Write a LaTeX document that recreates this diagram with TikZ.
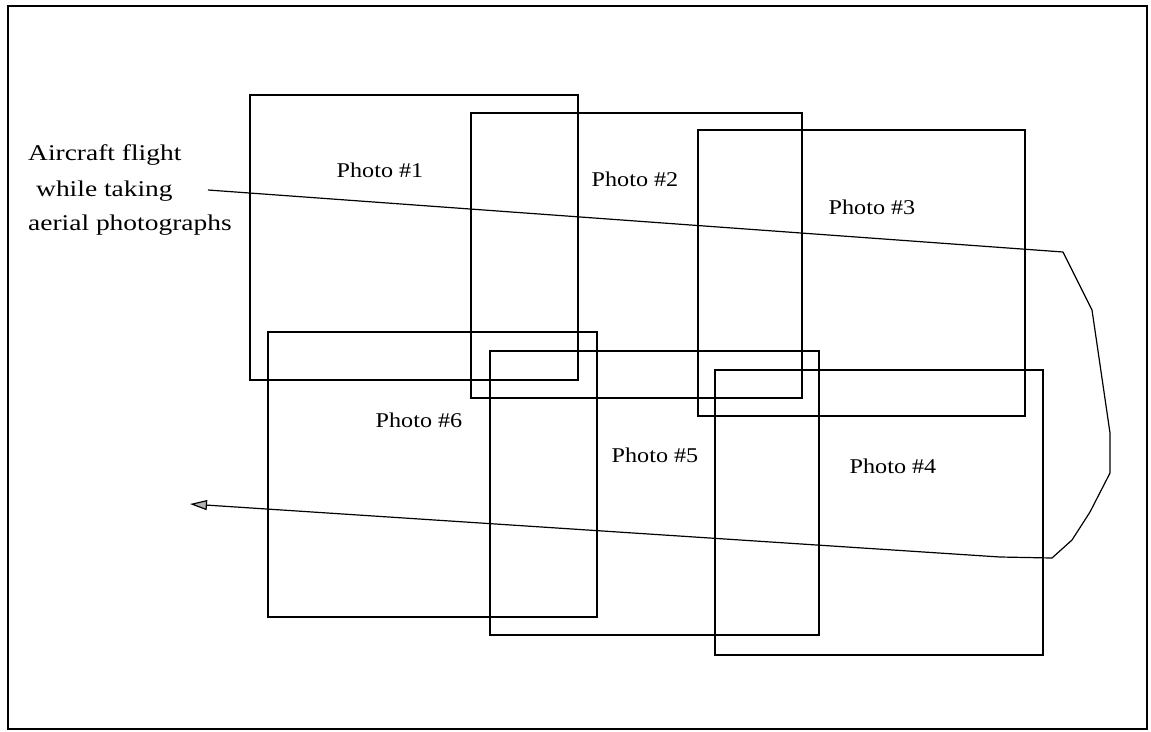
\documentclass[tikz,border=0pt]{standalone}
\usepackage{fontspec}
\setmainfont{Liberation Serif}
\newfontfamily\photofont[FakeStretch=1.15]{Liberation Serif}
\newfontfamily\flightfont[FakeStretch=1.22]{Liberation Serif}
\usetikzlibrary{arrows.meta}
\begin{document}
\begin{tikzpicture}[x=1pt,y=-1pt,
  frame/.style={draw=black,line width=1.1pt},
  photo/.style={draw=black,line width=2.5pt},
  plabel/.style={font=\photofont\fontsize{21}{25}\selectfont,inner sep=0pt},
  flabel/.style={font=\flightfont\fontsize{22.5}{27}\selectfont,inner sep=0pt,anchor=base west},
  flight/.style={draw=black,line width=1.2pt,line join=round}]
\useasboundingbox (0,0) rectangle (1151,731);
\draw[frame] (8,6) rectangle (1147,729);
% photos
\draw[photo] (250,95) rectangle (578,380);
\draw[photo] (471,113) rectangle (802,398);
\draw[photo] (698,130) rectangle (1025,416);
\draw[photo] (715,370) rectangle (1043,655);
\draw[photo] (490,351) rectangle (819,635);
\draw[photo] (268,332) rectangle (597,617);
\node[plabel] (p1) at (380,170) {Photo \#1};
\node[plabel] (p2) at (635,179) {Photo \#2};
\node[plabel] (p3) at (872,207) {Photo \#3};
\node[plabel] (p4) at (893,466) {Photo \#4};
\node[plabel] (p5) at (655,455) {Photo \#5};
\node[plabel] (p6) at (419,420) {Photo \#6};
% flight label
\node[flabel] (l1) at (28,160) {Aircraft flight};
\node[flabel] (l2) at (36,196) {while taking};
\node[flabel] (l3) at (28,230) {aerial photographs};
% flight path
\coordinate (s) at (208,190);
\coordinate (a) at (1063,252);
\coordinate (b) at (1092,310);
\coordinate (c) at (1110,433);
\coordinate (d) at (1110,473);
\coordinate (e) at (1090,512);
\coordinate (f) at (1072,540);
\coordinate (g) at (1052,558);
\coordinate (h) at (1000,557);
\coordinate (t) at (190,504);
\draw[flight,-{Triangle[length=17pt,width=10pt,fill=gray!60]}] (s) -- (a) -- (b) -- (c) -- (d) -- (e) -- (f) -- (g) -- (h) -- (t);
\end{tikzpicture}
\end{document}
